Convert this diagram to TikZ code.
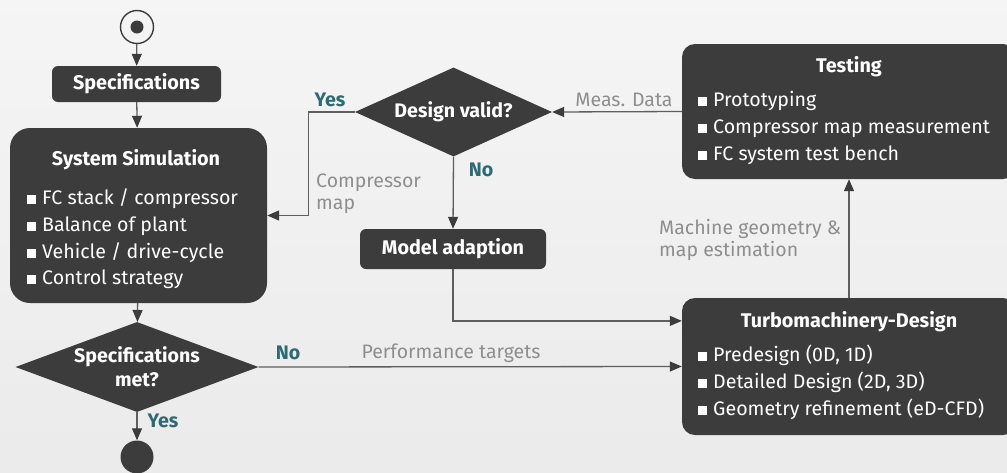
\documentclass[tikz,border=0pt]{standalone}
\usepackage{fontspec}
\setmainfont{Fira Sans}
\usetikzlibrary{arrows.meta,shapes.geometric,calc}
\definecolor{boxc}{HTML}{3C3C3C}
\definecolor{linec}{HTML}{5E5E5E}
\definecolor{labc}{HTML}{8E8E8E}
\definecolor{teal}{HTML}{2E6A73}
\newcommand\bul{\textcolor{white}{\rule[0.5pt]{9pt}{9pt}}\hspace{6pt}}
\tikzset{
  box/.style={draw=none, fill=boxc, text=white, inner sep=0pt},
  dia/.style={diamond, fill=boxc, text=white, inner sep=0pt, align=center, font=\bfseries\fontsize{19.6}{24}\selectfont},
  ttl/.style={text=white, font=\bfseries\fontsize{19.8}{22}\selectfont, inner sep=0pt},
  itm/.style={text=white, font=\fontsize{19.6}{26.8}\selectfont, align=left, inner sep=0pt, anchor=north west},
  lab/.style={text=labc, font=\fontsize{19.5}{22}\selectfont, inner sep=0pt, align=left},
  yn/.style={text=teal, font=\bfseries\fontsize{19.6}{22}\selectfont, inner sep=0pt},
  arr/.style={draw=linec, line width=1.3pt, -{Triangle[length=12pt,width=10pt,fill=boxc,color=boxc]}},
}
\begin{document}
\begin{tikzpicture}[x=1pt,y=-1pt]
\useasboundingbox (0,0) rectangle (1007,472);
\clip (0,0) rectangle (1007,472);
\shade[top color=white!96!black, bottom color=white!92!black] (0,0) rectangle (1007,472);
% start / end
\node[circle, draw=boxc, line width=1.4pt, minimum size=33pt, inner sep=0pt] (start) at (137,27) {};
\fill[boxc] (start.center) circle (6.5pt);
\node[circle, fill=boxc, minimum size=33pt, inner sep=0pt] (end) at (137,457) {};
% boxes
\node[box, rounded corners=6pt, minimum width=169pt, minimum height=36pt, font=\bfseries\fontsize{19.8}{22}\selectfont] (spec) at (136.5,84) {Specifications};
\node[box, rounded corners=20pt, minimum width=257pt, minimum height=175pt] (sys) at (138.5,215.5) {};
\node[ttl] (systtl) at (136,160) {System Simulation};
\node[itm] (sysitm) at (27,188.5) {\bul FC stack / compressor\\\bul Balance of plant\\\bul Vehicle / drive-cycle\\\bul Control strategy};
\node[dia, minimum width=243pt, minimum height=90pt, aspect=2.7] (met) at (137,367) {Specifications\\met?};
\node[dia, minimum width=197pt, minimum height=89pt, aspect=2.2] (dv) at (453.5,112) {Design valid?};
\node[box, rounded corners=6pt, minimum width=186pt, minimum height=40pt, font=\bfseries\fontsize{19.8}{22}\selectfont] (model) at (453,249) {Model adaption};
\node[box, rounded corners=13pt, minimum width=334pt, minimum height=135pt] (test) at (849,111.5) {};
\node[ttl] (testtl) at (849,67) {Testing};
\node[itm] (testitm) at (698,91) {\bul Prototyping\\\bul Compressor map measurement\\\bul FC system test bench};
\node[box, rounded corners=13pt, minimum width=334pt, minimum height=137pt] (turbo) at (849,366.5) {};
\node[ttl] (turbottl) at (849,322) {Turbomachinery-Design};
\node[itm] (turboitm) at (698,345) {\bul Predesign (0D, 1D)\\\bul Detailed Design (2D, 3D)\\\bul Geometry refinement (eD-CFD)};
% connectors
\draw[arr] (start) -- (spec);
\draw[arr] (spec) -- (sys);
\draw[arr] (sys) -- (met);
\draw[arr] (met) -- (end);
\draw[arr] (met.east) -- (turbo.west);
\draw[arr] (dv.south) -- (model.north);
\draw[arr] (model.south) |- ($(turbo.north west)!0.168!(turbo.south west)$);
\draw[arr] (dv.west) -- ++(-46,0) |- (sys.east);
\draw[arr] (test.west) -- (dv.east);
\draw[arr] (turbo.north) -- (test.south);
% labels
\node[yn] (yes1) at (163,421) {Yes};
\node[yn] (no1) at (288,353) {No};
\node[lab] (perf) at (451,353) {Performance targets};
\node[yn] (yes2) at (330,100) {Yes};
\node[yn] (no2) at (481,170) {No};
\node[lab, anchor=north west] (comp) at (316,174) {Compressor\\map};
\node[lab, anchor=north west] (mach) at (659,219.5) {Machine geometry \&\\map estimation};
\node[lab] (meas) at (624,100) {Meas. Data};
\end{tikzpicture}
\end{document}
